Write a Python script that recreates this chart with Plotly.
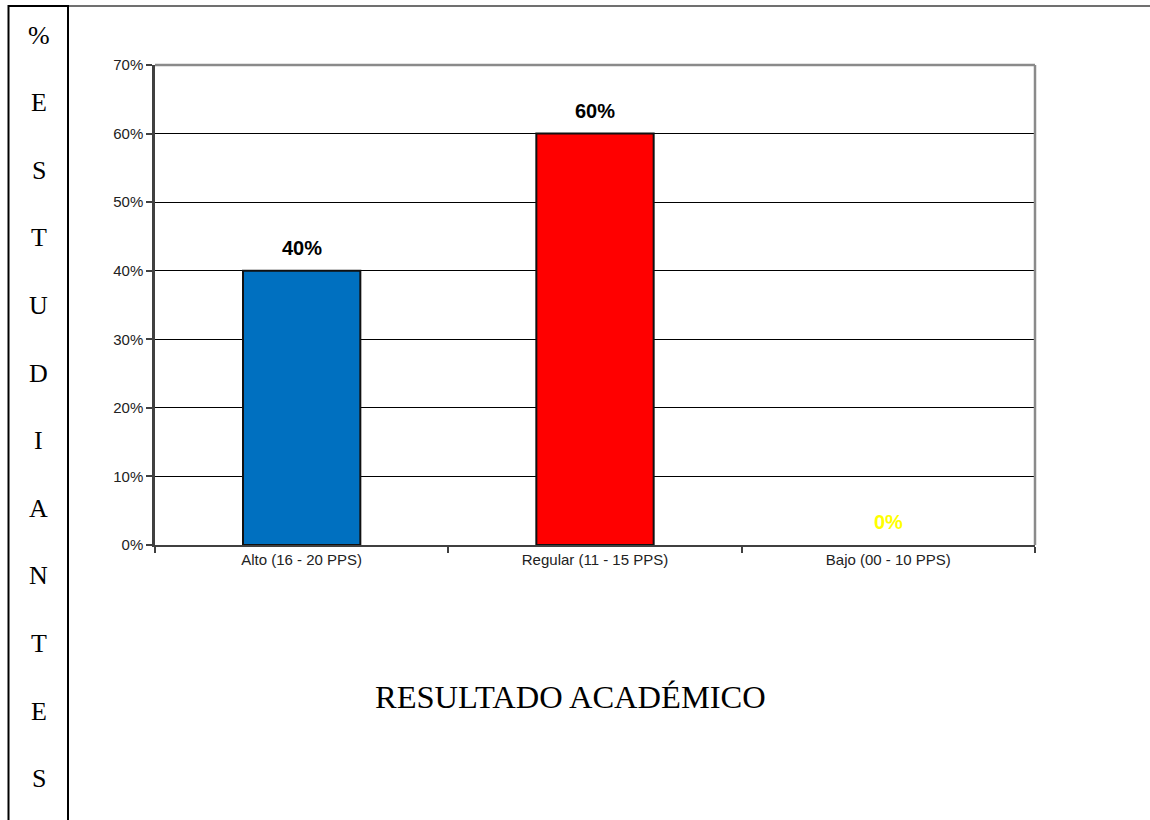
import plotly.graph_objects as go

# ---- data ----
categories = ["Alto (16 - 20 PPS)", "Regular (11 - 15 PPS)", "Bajo (00 - 10 PPS)"]
percentages = [0.40, 0.60, 0.00]
bar_colors = ["#0070C0", "#FF0000", "#FFFFFF"]
label_colors = ["#000000", "#000000", "#FFFF00"]
side_letters = ["%", "E", "S", "T", "U", "D", "I", "A", "N", "T", "E", "S"]
x_title = "RESULTADO ACADÉMICO"

W, H = 1150, 820
L, R, T, B = 155, 115, 65, 275
PW, PH = W - L - R, H - T - B


def px(x):
    return (x - L) / PW


def py(y):
    return (H - B - y) / PH


fig = go.Figure()
fig.add_trace(go.Bar(
    x=categories, y=percentages,
    marker=dict(color=bar_colors,
                line=dict(color="#111111", width=[2 if v > 0 else 0 for v in percentages])),
    hoverinfo="skip",
))

annotations = []
for c, v, col in zip(categories, percentages, label_colors):
    annotations.append(dict(
        x=c, y=v, xref="x", yref="y", text=f"{v:.0%}", showarrow=False,
        yanchor="middle", yshift=23,
        font=dict(family="Liberation Sans, Arial", size=20, color=col, weight="bold"),
    ))

# left vertical caption letters
y0_letter, step = 35, 67.6
for i, ch in enumerate(side_letters):
    annotations.append(dict(
        x=px(38.5), y=py(y0_letter + i * step), xref="paper", yref="paper",
        text=ch, showarrow=False, xanchor="center", yanchor="middle",
        font=dict(family="Liberation Serif, Times New Roman", size=26, color="#000000"),
    ))

annotations.append(dict(
    x=px(570), y=py(697), xref="paper", yref="paper", text=x_title,
    showarrow=False, xanchor="center", yanchor="middle",
    font=dict(family="Liberation Serif, Times New Roman", size=32.5, color="#000000"),
))

shapes = [
    # plot area top & right border
    dict(type="line", xref="paper", yref="paper", x0=0, x1=1, y0=1, y1=1,
         line=dict(color="#8a8a8a", width=2.5)),
    dict(type="line", xref="paper", yref="paper", x0=1, x1=1, y0=0, y1=1,
         line=dict(color="#8a8a8a", width=2.5)),
    # outer frame
    dict(type="line", xref="paper", yref="paper", x0=px(68), x1=px(1150), y0=py(6), y1=py(6),
         line=dict(color="#404040", width=1.5)),
    dict(type="line", xref="paper", yref="paper", x0=px(8.5), x1=px(68), y0=py(6), y1=py(6),
         line=dict(color="#000000", width=2)),
    dict(type="line", xref="paper", yref="paper", x0=px(8.5), x1=px(8.5), y0=py(5), y1=py(822),
         line=dict(color="#000000", width=2)),
    dict(type="line", xref="paper", yref="paper", x0=px(68), x1=px(68), y0=py(5), y1=py(822),
         line=dict(color="#000000", width=2)),
]

fig.update_layout(
    width=W, height=H,
    margin=dict(l=L, r=R, t=T, b=B),
    paper_bgcolor="white", plot_bgcolor="white",
    showlegend=False,
    bargap=0.6,
    annotations=annotations,
    shapes=shapes,
    font=dict(family="Liberation Sans, Arial", size=15, color="#222222"),
    xaxis=dict(
        type="category", tickson="boundaries", ticks="outside", ticklen=6,
        tickcolor="#404040", tickwidth=1.5,
        showline=True, linecolor="#404040", linewidth=2, showgrid=False,
        tickfont=dict(size=15, color="#222222"),
    ),
    yaxis=dict(
        range=[0, 0.7], dtick=0.1, tickformat=".0%",
        ticks="outside", ticklen=6, tickcolor="#404040", tickwidth=1.5,
        showline=True, linecolor="#404040", linewidth=2.5,
        showgrid=True, gridcolor="#000000", gridwidth=1, zeroline=False,
        tickfont=dict(size=15, color="#222222"),
    ),
)

fig.write_html("out.html")
